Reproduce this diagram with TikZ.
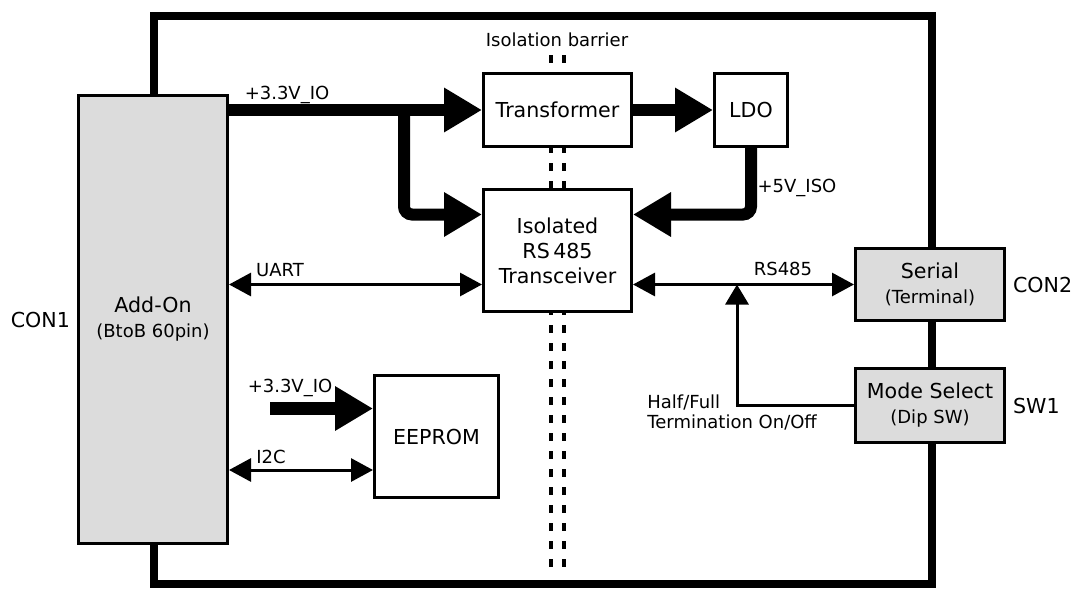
\documentclass[tikz,border=0pt]{standalone}
\usepackage{fontspec}
\setmainfont{DejaVu Sans}
\usetikzlibrary{arrows.meta, positioning}
\definecolor{boxgray}{HTML}{DCDCDC}
\newcommand{\lblfont}{\fontsize{9}{10}\selectfont}
\newcommand{\boxfont}{\fontsize{10.3}{12.5}\selectfont}

\begin{document}
\begin{tikzpicture}[
        x=0.5pt, y=-0.5pt,
        block/.style={draw, line width=1.5pt, fill=white, align=center, inner sep=0pt, font=\boxfont},
        conn/.style={block, fill=boxgray},
        lbl/.style={font=\lblfont, inner sep=0pt},
        power/.style={line width=6pt, -{Triangle[length=19pt, width=21pt]}},
        signal/.style={line width=1.5pt, {Triangle[length=11pt, width=11.5pt]}-{Triangle[length=11pt, width=11.5pt]}},
        barrier/.style={line width=1.75pt, dash pattern=on 4pt off 5pt}
    ]
        \useasboundingbox (0,0) rectangle (1072,589);

        % board outline and isolation barrier
        \draw[line width=4pt] (153.5,16) rectangle (932,584);
        \draw[barrier] (551,55) -- (551,567);
        \draw[barrier] (564,55) -- (564,567);
        \node[lbl] (iso) at (557,40) {Isolation barrier};

        \node[conn, minimum width=74.5pt, minimum height=224pt] (addon) at (153,319.5) {Add-On\\{\lblfont (BtoB 60pin)}};
        \node[block, minimum width=74pt, minimum height=36.5pt] (xfmr) at (557.5,110) {Transformer};
        \node[block, right=40pt of xfmr, minimum width=36.5pt, minimum height=36.5pt] (ldo) {LDO};
        \node[block, below=20pt of xfmr, minimum width=74pt, minimum height=61pt] (xcvr) {Isolated\\RS\,485\\Transceiver};
        \node[block, minimum width=62pt, minimum height=61pt] (eeprom) at (436.5,436.5) {EEPROM};
        \node[conn, minimum width=74.5pt, minimum height=36pt] (serial) at (930,284.5) {Serial\\{\lblfont (Terminal)}};
        \node[conn, below=22.5pt of serial, minimum width=74.5pt, minimum height=37pt] (mode) {Mode Select\\{\lblfont (Dip SW)}};

        \node[font=\boxfont, left=0pt of addon] (con1) {CON1};
        \node[font=\boxfont, right=0pt of serial] (con2) {CON2};
        \node[font=\boxfont, right=0pt of mode] (sw1) {SW1};

        % power
        \coordinate (split) at (404,110);
        \draw[power] (xfmr.west -| addon.east) -- (xfmr.west);
        \draw[power, rounded corners=4pt] (split) |- ([yshift=18pt]xcvr.west);
        \draw[power] (xfmr) -- (ldo);
        \draw[power, rounded corners=4pt] (ldo.south) |- ([yshift=18pt]xcvr.east);
        \node[lbl] (v33a) at (287,95) {+3.3V\_IO};
        \node[lbl] (v5) at (797,188) {+5V\_ISO};

        % signals
        \draw[signal] (serial.west -| addon.east) -- (serial.west -| xcvr.west);
        \node[lbl] (uart) at (280,270) {UART};
        \draw[signal] (serial.west -| xcvr.east) -- (serial.west);
        \node[lbl] (rs485) at (783,269) {RS485};
        \coordinate (tap) at (737,284.5);
        \draw[line width=1.5pt, -{Triangle[length=10pt, width=11.5pt]}] (mode.west) -| (tap);
        \node[lbl, anchor=west, align=left] (term) at (647,412) {Half/Full\\Termination On/Off};

        % eeprom
        \coordinate (ee3v) at (270,408.5);
        \coordinate (i2c) at ([yshift=-16.75pt]eeprom.west);
        \draw[power, line width=6.5pt] (ee3v) -- (ee3v -| eeprom.west);
        \node[lbl] (v33b) at (290,388) {+3.3V\_IO};
        \draw[signal] (i2c -| addon.east) -- (i2c);
        \node[lbl] (i2clbl) at (271,457) {I2C};
    \end{tikzpicture}
\end{document}
